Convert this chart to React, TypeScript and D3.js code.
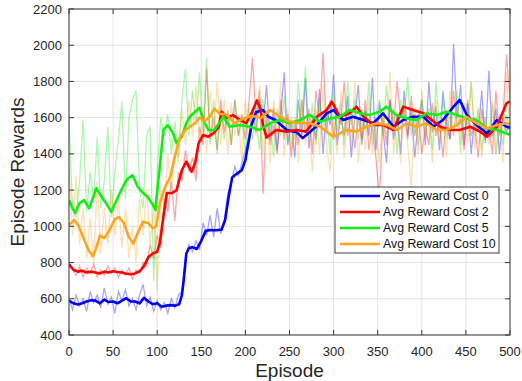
import React from "react";
import * as d3 from "d3";

// raw episode rewards, one value every RAW_STEP episodes (0..500)
const RAW_STEP = 4;

const rawCost0 = [
  600, 540, 620, 560, 600, 530, 640, 580, 620, 550,
  660, 570, 610, 520, 640, 590, 650, 560, 600, 540,
  620, 680, 560, 610, 530, 590, 540, 580, 520, 600,
  550, 620, 640, 820, 900, 860, 920, 870, 1020, 950,
  1060, 940, 1100, 960, 1030, 1180, 1240, 1330, 1280, 1350,
  1420, 1500, 1640, 1520, 1700, 1560, 1780, 1480, 1650, 1420,
  1620, 1850, 1450, 1580, 1380, 1700, 1500, 1820, 1430, 1600,
  1480, 1760, 1400, 1650, 1560, 1840, 1450, 1620, 1500, 1720,
  1380, 1600, 1780, 1450, 1640, 1500, 1820, 1420, 1680, 1530,
  1350, 1700, 1480, 1620, 1400, 1750, 1500, 1640, 1380, 1580,
  1700, 1450, 1800, 1520, 1660, 1420, 1750, 1560, 1480, 2010,
  1600, 1780, 1450, 1680, 1400, 1600, 1520, 1750, 1460, 1860,
  1500, 1650, 1400, 1600, 1520, 1580,
];

const rawCost2 = [
  800, 760, 730, 780, 720, 770, 740, 790, 720, 760,
  730, 780, 740, 770, 720, 760, 730, 770, 710, 760,
  740, 800, 780, 900, 820, 950, 880, 1150, 1080, 1250,
  1030, 1300, 1250, 1420, 1300, 1380, 1250, 1550, 1450, 1870,
  1480, 1600, 1420, 1700, 1520, 1640, 1450, 1700, 1500, 1620,
  1480, 1680, 1930, 1600, 1750, 1180, 1620, 1450, 1560, 1400,
  1700, 1480, 1620, 1380, 1580, 1450, 1700, 1520, 1650, 1400,
  1750, 1600, 1960, 1520, 1700, 1480, 1650, 1560, 1800, 1500,
  1620, 1430, 1600, 1480, 1700, 1420, 1560, 1380, 1150, 1600,
  1450, 1700, 1550, 1800, 1600, 1650, 1480, 1720, 1500, 1620,
  1400, 1550, 1450, 1680, 1500, 1580, 1380, 1620, 1480, 1750,
  1550, 1600, 1420, 1700, 1500, 1560, 1380, 1650, 1480, 1550,
  1400, 1750, 1500, 1600, 1950, 1700,
];

const rawCost5 = [
  1600, 1100, 1050, 1250, 1590, 1080, 1300, 1150, 1490, 1100,
  1250, 1550, 1050, 1300, 1480, 1690, 1150, 1600, 1700, 1750,
  1200, 1100, 1500, 1550, 700, 1300, 1600, 1500, 1620, 1400,
  1580, 1380, 1700, 1870, 1500, 1750, 1560, 1850, 1500, 1930,
  1450, 1700, 1400, 1650, 1480, 1620, 1450, 1700, 1500, 1580,
  1400, 1650, 1480, 1600, 1420, 1700, 1500, 1580, 1380, 1650,
  1500, 1720, 1450, 1600, 1480, 1800, 1550, 1880, 1500, 1680,
  1450, 1700, 1550, 1620, 1400, 1750, 1520, 1680, 1450, 1800,
  1560, 1700, 1480, 1650, 1520, 1800, 1450, 1620, 1700, 1500,
  1780, 1550, 1650, 1400, 1700, 1600, 1820, 1500, 1650, 1450,
  1700, 1550, 1650, 1420, 1800, 1560, 1700, 1480, 1620, 1500,
  1750, 1450, 1680, 1550, 1800, 1500, 1650, 1420, 1600, 1480,
  1680, 1400, 1560, 1450, 1620, 1500,
];

const rawCost10 = [
  1320, 950, 1280, 900, 1100, 820, 1050, 780, 1250, 850,
  1100, 900, 1200, 950, 1150, 880, 1100, 820, 1000, 800,
  1150, 950, 1200, 900, 1100, 650, 1200, 1100, 1400, 1200,
  1500, 1350, 1650, 1450, 1700, 1500, 1780, 1450, 1650, 1400,
  1750, 1500, 1800, 1450, 1700, 1400, 1680, 1500, 1620, 1350,
  1700, 1450, 1650, 1500, 1780, 1400, 1620, 1350, 1700, 1480,
  1800, 1380, 1650, 1420, 1600, 1350, 1700, 1450, 1600, 1300,
  1650, 1400, 1780, 1450, 1300, 1600, 1400, 1750, 1380, 1650,
  1450, 1800, 1350, 1600, 1420, 1700, 1400, 1550, 1350, 1650,
  1480, 1850, 1400, 1600, 1350, 1700, 1450, 1220, 1620, 1400,
  1750, 1480, 1650, 1350, 1700, 1450, 1600, 1380, 1750, 1500,
  1650, 1400, 1600, 1450, 1800, 1420, 1650, 1380, 1600, 1450,
  1700, 1400, 1620, 1350, 1850, 1500,
];

// averaged rewards, [episode, reward]
const avgCost0: [number, number][] = [
  [0, 590], [5, 575], [10, 568], [15, 575], [20, 585], [25, 592], [30, 590], [35, 575],
  [40, 595], [45, 582], [50, 585], [55, 575], [60, 590], [65, 603], [70, 585], [75, 585],
  [80, 575], [85, 605], [90, 585], [95, 570], [100, 575], [105, 556], [110, 562], [115, 565],
  [120, 562], [125, 570], [128, 620], [130, 700], [133, 850], [136, 880], [140, 885],
  [145, 875], [150, 920], [155, 975], [160, 980], [167, 978], [173, 982], [177, 1035],
  [181, 1163], [185, 1270], [190, 1290], [196, 1310], [200, 1366], [204, 1476], [207, 1560],
  [212, 1630], [220, 1642], [226, 1605], [234, 1587], [247, 1532], [258, 1520], [265, 1487],
  [280, 1550], [292, 1624], [300, 1642], [307, 1605], [311, 1587], [322, 1605], [334, 1587],
  [345, 1569], [356, 1624], [368, 1550], [379, 1587], [390, 1605], [402, 1605], [413, 1550],
  [424, 1587], [436, 1661], [443, 1698], [451, 1615], [462, 1560], [474, 1513], [485, 1587],
  [496, 1550], [500, 1545],
];

const avgCost2: [number, number][] = [
  [0, 790], [5, 760], [10, 750], [15, 755], [20, 745], [25, 750], [30, 745], [35, 740],
  [40, 750], [45, 745], [50, 752], [55, 748], [60, 745], [65, 738], [70, 735], [75, 740],
  [80, 752], [85, 780], [90, 830], [95, 850], [100, 860], [103, 908], [107, 1053],
  [111, 1184], [117, 1184], [122, 1200], [128, 1311], [133, 1357], [139, 1302], [143, 1350],
  [147, 1460], [152, 1504], [158, 1495], [164, 1515], [170, 1550], [173, 1633], [179, 1598],
  [186, 1614], [194, 1587], [201, 1570], [207, 1625], [213, 1695], [217, 1650], [220, 1560],
  [224, 1490], [235, 1532], [247, 1523], [258, 1532], [269, 1523], [281, 1605], [292, 1642],
  [298, 1688], [307, 1605], [318, 1624], [326, 1661], [334, 1605], [345, 1560], [356, 1560],
  [368, 1532], [379, 1661], [390, 1642], [402, 1624], [409, 1596], [421, 1550], [432, 1532],
  [443, 1532], [455, 1550], [466, 1523], [474, 1495], [485, 1550], [496, 1679], [500, 1690],
];

const avgCost5: [number, number][] = [
  [0, 1145], [4, 1100], [7, 1075], [12, 1128], [17, 1145], [23, 1100], [31, 1210],
  [37, 1163], [42, 1128], [48, 1080], [54, 1145], [61, 1218], [66, 1260], [72, 1283],
  [78, 1218], [84, 1184], [89, 1163], [95, 1120], [98, 1090], [101, 1240], [103, 1330],
  [107, 1532], [112, 1559], [118, 1515], [122, 1460], [128, 1495], [133, 1570], [137, 1605],
  [143, 1633], [148, 1655], [152, 1590], [158, 1532], [165, 1532], [175, 1605], [182, 1550],
  [194, 1560], [205, 1550], [216, 1532], [228, 1569], [239, 1587], [250, 1569], [262, 1587],
  [273, 1615], [285, 1578], [296, 1596], [307, 1605], [318, 1642], [330, 1624], [341, 1615],
  [352, 1633], [360, 1661], [371, 1615], [383, 1596], [394, 1587], [405, 1624], [417, 1615],
  [428, 1633], [440, 1615], [451, 1596], [462, 1587], [474, 1541], [485, 1532], [496, 1513],
  [500, 1505],
];

const avgCost10: [number, number][] = [
  [0, 1010], [3, 1020], [6, 1035], [11, 1000], [17, 930], [22, 870], [27, 835], [31, 880],
  [35, 950], [40, 935], [46, 980], [52, 1040], [57, 1050], [62, 1020], [68, 940], [73, 905],
  [79, 975], [84, 1025], [90, 1018], [95, 990], [99, 1000], [103, 1128], [109, 1218],
  [115, 1274], [120, 1384], [126, 1495], [132, 1532], [137, 1550], [143, 1570], [148, 1600],
  [154, 1580], [160, 1610], [165, 1650], [171, 1620], [177, 1620], [182, 1598], [188, 1570],
  [194, 1587], [201, 1600], [207, 1610], [213, 1605], [217, 1596], [228, 1642], [239, 1605],
  [250, 1578], [262, 1569], [273, 1569], [285, 1550], [292, 1523], [300, 1495], [307, 1513],
  [315, 1532], [326, 1523], [337, 1550], [349, 1569], [360, 1560], [372, 1532], [383, 1569],
  [394, 1550], [405, 1569], [417, 1532], [428, 1532], [440, 1560], [451, 1605], [462, 1569],
  [474, 1541], [485, 1560], [496, 1569], [500, 1565],
];

const legendLabels = [
  "Avg Reward Cost 0",
  "Avg Reward Cost 2",
  "Avg Reward Cost 5",
  "Avg Reward Cost 10",
];
const colors = ["#0000ff", "#ff0000", "#12ee12", "#ffa51f"];

const xTicks = [0, 50, 100, 150, 200, 250, 300, 350, 400, 450, 500];
const yTicks = [400, 600, 800, 1000, 1200, 1400, 1600, 1800, 2000, 2200];

const W = 522;
const H = 381;
const left = 69;
const right = 510;
const top = 9;
const bottom = 335;
const font = "'Liberation Sans', Arial, sans-serif";

function App() {
  const x = d3.scaleLinear().domain([0, 500]).range([left, right]);
  const y = d3.scaleLinear().domain([400, 2200]).range([bottom, top]);

  const rawLine = d3
    .line<number>()
    .x((d, i) => x(i * RAW_STEP))
    .y((d) => y(d));
  const avgLine = d3
    .line<[number, number]>()
    .x((d) => x(d[0]))
    .y((d) => y(d[1]))
    .curve(d3.curveLinear);

  const raws = [rawCost0, rawCost2, rawCost5, rawCost10];
  const avgs = [avgCost0, avgCost2, avgCost5, avgCost10];

  const axisColor = "#3a3a3a";

  return (
    <svg
      width={W}
      height={H}
      style={{ position: "absolute", left: 0, top: 0, background: "#fff" }}
      fontFamily={font}
    >
      <defs>
        <clipPath id="plotClip">
          <rect x={left} y={top} width={right - left} height={bottom - top} />
        </clipPath>
      </defs>

      {/* grid */}
      <g stroke="#e3e3e3" strokeWidth={1}>
        {xTicks.map((t) => (
          <line key={"gx" + t} x1={x(t)} x2={x(t)} y1={top} y2={bottom} />
        ))}
        {yTicks.map((t) => (
          <line key={"gy" + t} x1={left} x2={right} y1={y(t)} y2={y(t)} />
        ))}
      </g>

      {/* noisy episode rewards */}
      <g clipPath="url(#plotClip)" fill="none" strokeWidth={1.3} strokeOpacity={0.35}>
        {raws.map((r, i) => (
          <path key={"raw" + i} d={rawLine(r) || ""} stroke={colors[i]} />
        ))}
      </g>

      {/* averaged rewards */}
      <g clipPath="url(#plotClip)" fill="none" strokeWidth={2.6} strokeLinejoin="round">
        {avgs.map((a, i) => (
          <path key={"avg" + i} d={avgLine(a) || ""} stroke={colors[i]} />
        ))}
      </g>

      {/* box + inward ticks */}
      <rect
        x={left}
        y={top}
        width={right - left}
        height={bottom - top}
        fill="none"
        stroke={axisColor}
        strokeWidth={1}
      />
      <g stroke={axisColor} strokeWidth={1}>
        {xTicks.map((t) => (
          <g key={"tx" + t}>
            <line x1={x(t)} x2={x(t)} y1={bottom} y2={bottom - 5} />
            <line x1={x(t)} x2={x(t)} y1={top} y2={top + 5} />
          </g>
        ))}
        {yTicks.map((t) => (
          <g key={"ty" + t}>
            <line x1={left} x2={left + 5} y1={y(t)} y2={y(t)} />
            <line x1={right} x2={right - 5} y1={y(t)} y2={y(t)} />
          </g>
        ))}
      </g>

      {/* tick labels */}
      <g fontSize={13} fill="#262626">
        {xTicks.map((t) => (
          <text key={"lx" + t} x={x(t)} y={356} textAnchor="middle">
            {t}
          </text>
        ))}
        {yTicks.map((t) => (
          <text key={"ly" + t} x={62} y={y(t) + 4.5} textAnchor="end">
            {t}
          </text>
        ))}
      </g>

      {/* axis titles */}
      <text x={(left + right) / 2} y={377} textAnchor="middle" fontSize={19} fill="#262626">
        Episode
      </text>
      <text
        transform={`translate(24,${(top + bottom) / 2}) rotate(-90)`}
        textAnchor="middle"
        fontSize={19}
        fill="#262626"
      >
        Episode Rewards
      </text>

      {/* legend */}
      <g>
        <rect x={335} y={187} width={164} height={66} fill="#fff" stroke={axisColor} strokeWidth={1} />
        {legendLabels.map((lab, i) => (
          <g key={lab} transform={`translate(0,${196 + i * 16})`}>
            <line x1={340} x2={380} y1={0} y2={0} stroke={colors[i]} strokeWidth={2.6} />
            <text x={383} y={4.3} fontSize={12.3} fill="#111">
              {lab}
            </text>
          </g>
        ))}
      </g>
    </svg>
  );
}

export default App;
